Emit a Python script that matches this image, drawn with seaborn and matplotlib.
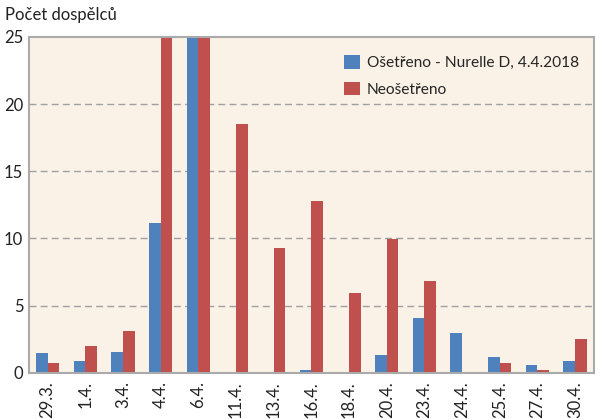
import numpy as np
import pandas as pd
import seaborn as sns
import matplotlib.pyplot as plt

dates = ["29.3.", "1.4.", "3.4.", "4.4.", "6.4.", "11.4.", "13.4.", "16.4.",
         "18.4.", "20.4.", "23.4.", "24.4.", "25.4.", "27.4.", "30.4."]
osetreno = [1.5, 0.85, 1.55, 11.15, 30, 0.1, 0, 0.2, 0, 1.35, 4.1, 3.0, 1.2, 0.6, 0.85]
neosetreno = [0.75, 2.0, 3.1, 30, 30, 18.5, 9.3, 12.8, 5.95, 9.95, 6.85, 0, 0.75, 0.2, 2.5]
series_names = ["Ošetřeno - Nurelle D, 4.4.2018", "Neošetřeno"]

df = pd.DataFrame({
    "datum": dates * 2,
    "pocet": osetreno + neosetreno,
    "varianta": [series_names[0]] * len(dates) + [series_names[1]] * len(dates),
})

sns.set_style("white")
plt.rcParams["font.family"] = ["Lato", "DejaVu Sans"]

fig = plt.figure(figsize=(6, 4.19), dpi=100)
ax = fig.add_axes([0.048, 0.110, 0.942, 0.802])
ax.set_facecolor("#fbf2e7")

sns.barplot(data=df, x="datum", y="pocet", hue="varianta", order=dates,
            hue_order=series_names, palette=["#4f81bd", "#c0504d"],
            width=0.62, saturation=1, linewidth=0, ax=ax, legend=True)

ax.set_ylim(0, 25)
ax.set_xlim(-0.5, len(dates) - 0.5)
ax.set_yticks([0, 5, 10, 15, 20, 25])
for y in [5, 10, 15, 20]:
    ax.axhline(y, color="#a0a0a0", lw=1, ls=(0, (5, 3)), zorder=0)
ax.set_axisbelow(True)

ax.set_xlabel("")
ax.set_ylabel("")
ax.tick_params(axis="x", rotation=90, labelsize=12, length=0, pad=6, colors="#222222")
ax.tick_params(axis="y", labelsize=12, length=0, pad=4, colors="#222222")
for s in ax.spines.values():
    s.set_color("#aaaaaa")
    s.set_linewidth(1.5)

leg = ax.legend(loc="upper right", frameon=False, fontsize=11.2, handlelength=1.0,
                handleheight=1.0, handletextpad=0.45, labelspacing=0.75,
                borderaxespad=0.2, bbox_to_anchor=(0.99, 0.975))

fig.text(0.008, 0.965, "Počet dospělců", fontsize=12, color="#222222", va="center")

fig.savefig("out.png", dpi=100)
